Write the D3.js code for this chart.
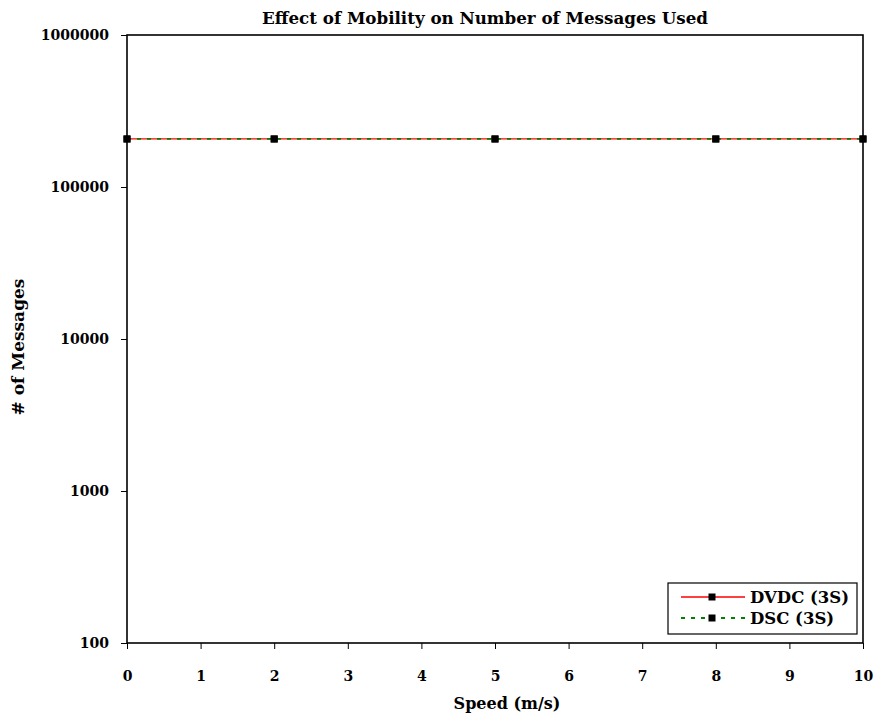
<!DOCTYPE html>
<html>
<head>
<meta charset="utf-8">
<script src="https://cdn.jsdelivr.net/npm/d3@7"></script>
<style>
  body { margin: 0; background: #fff; }
  svg text { font-family: "DejaVu Serif", "Liberation Serif", serif; font-weight: bold; fill: #000; }
</style>
</head>
<body>
<svg id="chart" width="876" height="717"></svg>
<script>
// Speeds (m/s) at which the number of messages was measured
const speeds = [0, 2, 5, 8, 10];
// Total messages per protocol
const dvdcMessages = [207000, 207000, 207000, 207000, 207000];
const dscMessages  = [207000, 207000, 207000, 207000, 207000];
const seriesNames = ["DVDC (3S)", "DSC (3S)"];
const xTicks = [0, 1, 2, 3, 4, 5, 6, 7, 8, 9, 10];
const yTicks = [100, 1000, 10000, 100000, 1000000];

const svg = d3.select("#chart");
const margin = { left: 127, right: 13, top: 35, bottom: 74 };
const W = 876, H = 717;
const x = d3.scaleLinear().domain([0, 10]).range([margin.left, W - margin.right]);
const y = d3.scaleLog().domain([100, 1000000]).range([H - margin.bottom, margin.top]);

// Plot frame
svg.append("rect")
  .attr("x", x(0)).attr("y", y(1000000))
  .attr("width", x(10) - x(0)).attr("height", y(100) - y(1000000))
  .attr("fill", "none").attr("stroke", "#000").attr("stroke-width", 1.6);

// X axis
const xAxis = svg.append("g")
  .attr("transform", `translate(0,${y(100)})`)
  .call(d3.axisBottom(x).tickValues(xTicks).tickFormat(d3.format("d")).tickSize(6).tickPadding(22));
xAxis.select(".domain").remove();
xAxis.selectAll("text").style("font-size", "14px");

// Y axis
const yAxis = svg.append("g")
  .attr("transform", `translate(${x(0)},0)`)
  .call(d3.axisLeft(y).tickValues(yTicks).tickFormat(d3.format("d")).tickSize(6).tickPadding(12));
yAxis.select(".domain").remove();
yAxis.selectAll("text").style("font-size", "14px");

// Title and axis titles
svg.append("text").attr("x", 485).attr("y", 24)
  .attr("text-anchor", "middle").style("font-size", "16.7px")
  .text("Effect of Mobility on Number of Messages Used");
svg.append("text").attr("x", 507).attr("y", 709)
  .attr("text-anchor", "middle").style("font-size", "16px")
  .text("Speed (m/s)");
svg.append("text")
  .attr("transform", "translate(24,347) rotate(-90)")
  .attr("text-anchor", "middle").style("font-size", "17px")
  .text("# of Messages");

const line = d3.line().x(d => x(d[0])).y(d => y(d[1]));
const dvdc = speeds.map((s, i) => [s, dvdcMessages[i]]);
const dsc = speeds.map((s, i) => [s, dscMessages[i]]);

svg.append("path").datum(dvdc).attr("d", line)
  .attr("fill", "none").attr("stroke", "#ff0000").attr("stroke-width", 1.3);
svg.append("path").datum(dsc).attr("d", line)
  .attr("fill", "none").attr("stroke", "#008000").attr("stroke-width", 1.8)
  .attr("stroke-dasharray", "4,6");

// Markers
[dvdc, dsc].forEach(data => {
  svg.append("g").selectAll("rect").data(data).join("rect")
    .attr("x", d => x(d[0]) - 3.5).attr("y", d => y(d[1]) - 3.5)
    .attr("width", 7).attr("height", 7).attr("fill", "#000");
});

// Legend
const lg = svg.append("g");
lg.append("rect").attr("x", 668).attr("y", 583).attr("width", 189).attr("height", 51)
  .attr("fill", "#fff").attr("stroke", "#000").attr("stroke-width", 1.2);
const legendStyles = [
  { color: "#ff0000", dash: null, width: 1.3 },
  { color: "#008000", dash: "4,6", width: 1.8 }
];
seriesNames.forEach((name, i) => {
  const cy = 597 + i * 21;
  lg.append("line").attr("x1", 681).attr("x2", 745).attr("y1", cy).attr("y2", cy)
    .attr("stroke", legendStyles[i].color).attr("stroke-width", legendStyles[i].width)
    .attr("stroke-dasharray", legendStyles[i].dash);
  lg.append("rect").attr("x", 712 - 3.5).attr("y", cy - 3.5).attr("width", 7).attr("height", 7).attr("fill", "#000");
  lg.append("text").attr("x", 750).attr("y", cy + 6).style("font-size", "16.5px").text(name);
});
</script>
</body>
</html>
